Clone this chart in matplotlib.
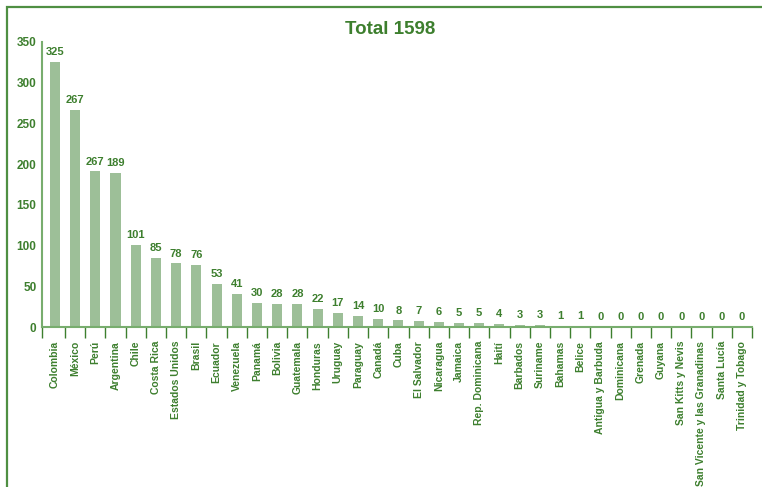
import numpy as np
import matplotlib.pyplot as plt
from matplotlib.patches import Rectangle

paises = ["Colombia", "México", "Perú", "Argentina", "Chile", "Costa Rica",
          "Estados Unidos", "Brasil", "Ecuador", "Venezuela", "Panamá", "Bolivia",
          "Guatemala", "Honduras", "Uruguay", "Paraguay", "Canadá", "Cuba",
          "El Salvador", "Nicaragua", "Jamaica", "Rep. Dominicana", "Haití",
          "Barbados", "Suriname", "Bahamas", "Belice", "Antigua y Barbuda",
          "Dominicana", "Grenada", "Guyana", "San Kitts y Nevis",
          "San Vicente y las Granadinas", "Santa Lucía", "Trinidad y Tobago"]
valores = [325, 267, 191, 189, 101, 85, 78, 76, 53, 41, 30, 28, 28, 22, 17, 14,
           10, 8, 7, 6, 5, 5, 4, 3, 3, 1, 1, 0, 0, 0, 0, 0, 0, 0, 0]
# etiquetas tal como aparecen en el original
etiquetas = ["325", "267", "267", "189", "101", "85", "78", "76", "53", "41", "30",
             "28", "28", "22", "17", "14", "10", "8", "7", "6", "5", "5", "4", "3",
             "3", "1", "1", "0", "0", "0", "0", "0", "0", "0", "0"]
yticks = [0, 50, 100, 150, 200, 250, 300, 350]
titulo = "Total 1598"

verde = "#3d7f2e"
verde_claro = "#78ad6e"
barra = "#9dbf98"

plt.rcParams["font.family"] = ["Liberation Sans", "DejaVu Sans"]
plt.rcParams["font.weight"] = "bold"

fig = plt.figure(figsize=(7.62, 4.87), dpi=100)
fig.patches.append(Rectangle((7 / 762, -0.1), 1.2, (487 - 7) / 487 + 0.1,
                             transform=fig.transFigure, fill=False,
                             edgecolor="#4f8f42", linewidth=1.6))
ax = fig.add_axes([42 / 762, 160 / 487, 710 / 762, 285 / 487])

x = np.arange(len(paises))
ax.bar(x, valores, width=0.5, color=barra, zorder=2)
for xi, v, t in zip(x, valores, etiquetas):
    ax.text(xi, v + 6, t, ha="center", va="bottom", fontsize=8,
            fontweight="bold", color=verde)

ax.set_xlim(-0.64, 34.5)
ax.set_ylim(0, 350)
ax.set_yticks(yticks)
ax.set_xticks(x)
ax.set_xticklabels(paises, rotation=90, fontsize=7.5, fontweight="bold", color=verde)
ax.set_xticks(list(np.arange(0.5, len(paises) - 1, 1.0)) + [-0.64, 34.5], minor=True)
ax.tick_params(axis="x", which="major", length=0, pad=10)
ax.tick_params(axis="x", which="minor", length=8, width=1, color=verde)
ax.tick_params(axis="y", length=0, pad=4, labelsize=8.5, labelcolor=verde)
for lab in ax.get_yticklabels():
    lab.set_fontweight("bold")

ax.spines["top"].set_visible(False)
ax.spines["right"].set_visible(False)
ax.spines["left"].set_color(verde_claro)
ax.spines["bottom"].set_color(verde_claro)
ax.spines["left"].set_linewidth(1.5)
ax.spines["bottom"].set_linewidth(1.5)

fig.text(390 / 762, 1 - 29 / 487, titulo, ha="center", va="center",
         fontsize=13.5, fontweight="bold", color=verde)

fig.savefig("out.png", dpi=100)
